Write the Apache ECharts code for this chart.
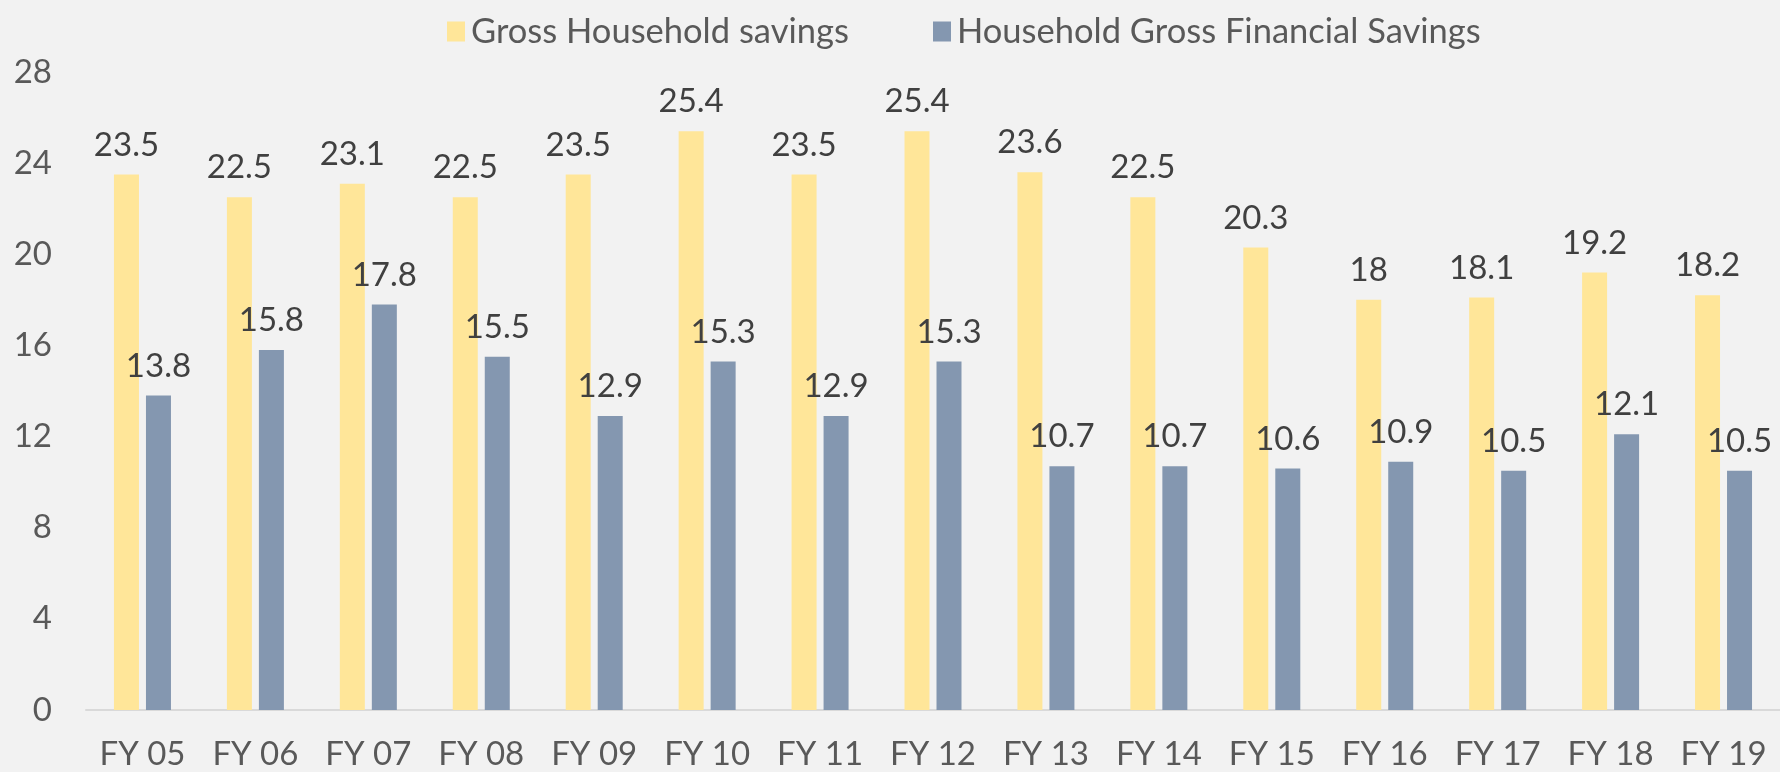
<!DOCTYPE html>
<html>
<head>
<meta charset="utf-8">
<script src="https://cdn.jsdelivr.net/npm/echarts@6/dist/echarts.min.js"></script>
<style>
  html, body { margin: 0; padding: 0; background: #F2F2F2; }
  #main { width: 1780px; height: 772px; }
</style>
</head>
<body>
<div id="main"></div>
<script>
var years = ['FY 05', 'FY 06', 'FY 07', 'FY 08', 'FY 09', 'FY 10', 'FY 11', 'FY 12',
  'FY 13', 'FY 14', 'FY 15', 'FY 16', 'FY 17', 'FY 18', 'FY 19'];
var grossSavings = [23.5, 22.5, 23.1, 22.5, 23.5, 25.4, 23.5, 25.4, 23.6, 22.5, 20.3, 18, 18.1, 19.2, 18.2];
var financialSavings = [13.8, 15.8, 17.8, 15.5, 12.9, 15.3, 12.9, 15.3, 10.7, 10.7, 10.6, 10.9, 10.5, 12.1, 10.5];
var seriesNames = ['Gross Household savings', 'Household Gross Financial Savings'];

var colors = ['#FFE699', '#8497B0'];
var fontFamily = 'Lato, "Open Sans", sans-serif';

var myChart = echarts.init(document.getElementById('main'));

var legendBase = {
  top: 9,
  itemWidth: 18,
  itemHeight: 20,
  icon: 'rect',
  textStyle: { fontFamily: fontFamily, fontSize: 34.5, color: '#595959', padding: [0, 0, 0, 1] }
};

var option = {
  backgroundColor: '#F2F2F2',
  color: colors,
  animation: false,
  legend: [
    Object.assign({ left: 442, data: [seriesNames[0]] }, legendBase),
    Object.assign({ left: 928, data: [seriesNames[1]] }, legendBase)
  ],
  grid: {
    left: 86,
    top: 72,
    width: 1700,
    height: 638
  },
  xAxis: {
    type: 'category',
    data: years,
    axisTick: { show: false },
    axisLine: { lineStyle: { color: '#D9D9D9', width: 2 } },
    axisLabel: { fontFamily: fontFamily, fontSize: 33, color: '#595959', margin: 28 }
  },
  yAxis: {
    type: 'value',
    min: 0,
    max: 28,
    interval: 4,
    splitLine: { show: false },
    axisLine: { show: false },
    axisTick: { show: false },
    axisLabel: { fontFamily: fontFamily, fontSize: 33, color: '#595959', margin: 34 }
  },
  series: [
    {
      name: seriesNames[0],
      type: 'bar',
      barWidth: 25,
      barGap: '28%',
      data: grossSavings,
      label: { show: true, position: 'top', distance: 13, fontFamily: fontFamily, fontSize: 33, color: '#404040' }
    },
    {
      name: seriesNames[1],
      type: 'bar',
      barWidth: 25,
      data: financialSavings,
      label: { show: true, position: 'top', distance: 13, fontFamily: fontFamily, fontSize: 33, color: '#404040' }
    }
  ]
};

myChart.setOption(option);
</script>
</body>
</html>
